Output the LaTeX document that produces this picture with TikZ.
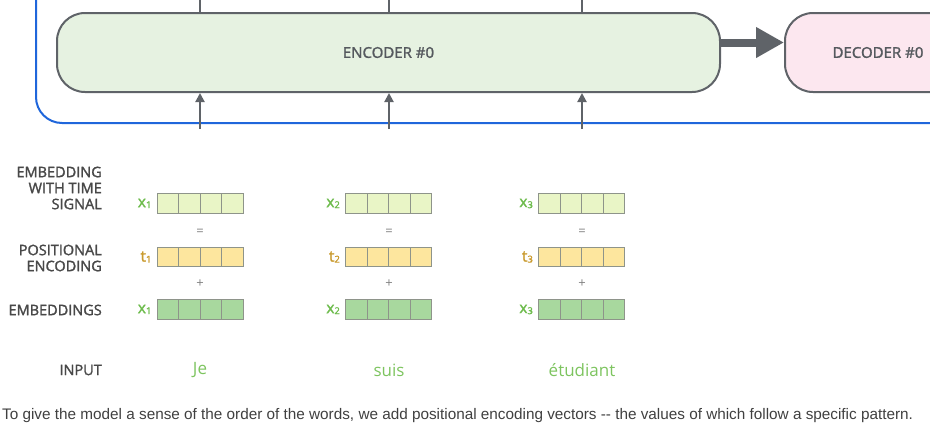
\documentclass[tikz,border=0pt]{standalone}
\usepackage{fontspec}
\setmainfont{Open Sans}
\newfontfamily\semib{Open Sans}[FakeBold=1.6]
\newfontfamily\capfont{Liberation Sans}
\usetikzlibrary{arrows.meta}
\definecolor{edge}{HTML}{5F6368}
\definecolor{encfill}{HTML}{E6F2E1}
\definecolor{decfill}{HTML}{FCE7EF}
\definecolor{blueline}{HTML}{1F66DB}
\definecolor{lbltext}{HTML}{484848}
\definecolor{xgreen}{HTML}{6DBB4C}
\definecolor{tgold}{HTML}{C99A2E}
\definecolor{wordgreen}{HTML}{7DC45F}
\definecolor{cellA}{HTML}{E9F5C6}
\definecolor{cellB}{HTML}{FDE69E}
\definecolor{cellC}{HTML}{A8D89E}
\definecolor{cellborder}{HTML}{8E948A}
\tikzset{
  stackbox/.style={draw=edge, line width=2pt, rounded corners=28pt, inner sep=0pt,
    font=\semib\fontsize{15}{15}\selectfont, text=edge!90!black},
  conn/.style={draw=edge, line width=2pt},
  cellstyle/.style={draw=cellborder, line width=0.8pt, minimum width=21.5pt, minimum height=19.5pt, inner sep=0pt},
  rowlbl/.style={font=\semib\fontsize{14.5}{16}\selectfont, text=lbltext, align=right, anchor=east, inner sep=0pt},
  vlbl/.style={anchor=east, inner sep=0pt, font=\semib\fontsize{15.5}{15.5}\selectfont},
  oplbl/.style={font=\fontsize{13}{13}\selectfont, text=gray, inner sep=0pt},
  wordlbl/.style={font=\fontsize{17}{17}\selectfont, text=wordgreen, inner sep=0pt},
}
\newcommand{\vsub}[2]{#1\raisebox{-1pt}{\fontsize{9.5}{9.5}\selectfont #2}}
\begin{document}
\begin{tikzpicture}[x=1pt,y=-1pt]
\useasboundingbox (0,0) rectangle (930,429);
\begin{scope}
\clip (0,0) rectangle (930,429);
% blue frame
\draw[blueline, line width=2pt, rounded corners=26pt] (36,-10) -- (36,123) -- (940,123);
% encoder and decoder
\node[stackbox, fill=encfill, minimum width=663pt, minimum height=79pt] (enc) at (388.5,52.5) {ENCODER \#0};
\node[stackbox, fill=decfill, minimum width=186pt, minimum height=79pt] (dec) at (878,52.5) {DECODER \#0};
\draw[draw=edge, line width=8pt, -{Triangle[length=28pt,width=29pt]}] ([yshift=10pt]enc.east) -- ([yshift=10pt]dec.west);
% column coordinates
\coordinate (c1) at (200,129);
\coordinate (c2) at (389,129);
\coordinate (c3) at (582,129);
\coordinate (u1) at (200,-2);
\coordinate (u2) at (389,-2);
\coordinate (u3) at (582,-2);
\foreach \i in {1,2,3} {
  \draw[conn] (u\i) -- (u\i |- enc.north);
  \draw[conn, -{Triangle[length=9pt,width=9pt]}] (c\i) -- (c\i |- enc.south);
}
% vectors
\foreach \cx/\i in {157/1,345.5/2,538.5/3} {
  \foreach \k in {0,1,2,3} {
    \node[cellstyle, fill=cellA] (a\i\k) at ({\cx+\k*21.5+10.75},203.5) {};
    \node[cellstyle, fill=cellB] (b\i\k) at ({\cx+\k*21.5+10.75},257) {};
    \node[cellstyle, fill=cellC] (e\i\k) at ({\cx+\k*21.5+10.75},309.5) {};
  }
  \node[vlbl, text=xgreen] (la\i) at ([xshift=-5pt]a\i0.west) {\vsub{x}{\i}};
  \node[vlbl, text=tgold] (lb\i) at ([xshift=-5pt]b\i0.west) {\vsub{t}{\i}};
  \node[vlbl, text=xgreen] (le\i) at ([xshift=-5pt]e\i0.west) {\vsub{x}{\i}};
}
\node[oplbl] (eq1) at (200,232) {=};
\node[oplbl] (eq2) at (389,232) {=};
\node[oplbl] (eq3) at (582,232) {=};
\node[oplbl] (pl1) at (200,284) {+};
\node[oplbl] (pl2) at (389,284) {+};
\node[oplbl] (pl3) at (582,284) {+};
% row labels
\node[rowlbl] (r1) at (102,188) {EMBEDDING\\WITH TIME\\SIGNAL};
\node[rowlbl] (r2) at (102,258) {POSITIONAL\\ENCODING};
\node[rowlbl] (r3) at (102,310) {EMBEDDINGS};
\node[rowlbl] (r4) at (102,370) {INPUT};
% words
\node[wordlbl] (w1) at (200,370) {Je};
\node[wordlbl] (w2) at (389,370) {suis};
\node[wordlbl] (w3) at (582,370) {étudiant};
% caption
\node[anchor=west, inner sep=0pt, text=black!75, font=\capfont\fontsize{15.3}{15.3}\selectfont] (cap) at (2,416) {To give the model a sense of the order of the words, we add positional encoding vectors -- the values of which follow a specific pattern.};
\end{scope}
\end{tikzpicture}
\end{document}
